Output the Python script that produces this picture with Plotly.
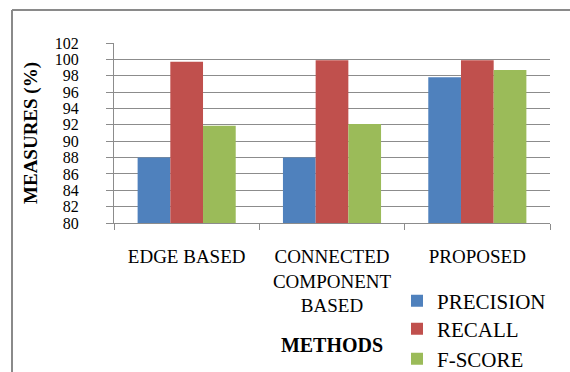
import plotly.graph_objects as go

categories = ["EDGE BASED", "CONNECTED<br>COMPONENT<br>BASED", "PROPOSED"]
precision = [88.0, 88.0, 97.8]
recall = [99.7, 99.9, 99.9]
fscore = [91.9, 92.1, 98.7]
series_names = ["PRECISION", "RECALL", "F-SCORE"]
colors = ["#4F81BD", "#C0504D", "#9BBB59"]
y_ticks = list(range(80, 103, 2))

W, H = 570, 372
L, R, T, B = 114, 20, 43, 149
pw, ph = W - L - R, H - T - B

def px(x):
    return (x - L) / pw

def py(y):
    return (H - B - y) / ph

FONT = "Liberation Serif"
fig = go.Figure()
legends = ["legend", "legend2", "legend3"]
for name, vals, col, lg in zip(series_names, [precision, recall, fscore], colors, legends):
    fig.add_trace(go.Bar(x=categories, y=vals, name=name, marker_color=col,
                         marker_line_width=0, legend=lg, showlegend=True))

grid = "#8c8c8c"
leg_y = [301, 329, 359]
leg_x = 397
leg_common = dict(font=dict(family=FONT, size=21, color="black"), bgcolor="rgba(0,0,0,0)",
                  xanchor="left", yanchor="middle", itemclick=False)
fig.update_layout(
    width=W, height=H,
    showlegend=True,
    margin=dict(l=L, r=R, t=T, b=B, autoexpand=False),
    paper_bgcolor="white", plot_bgcolor="white",
    barmode="group", bargap=0.325, bargroupgap=0,
    legend=dict(x=px(leg_x), y=py(leg_y[0]), visible=True, **leg_common),
    legend2=dict(x=px(leg_x), y=py(leg_y[1]), visible=True, **leg_common),
    legend3=dict(x=px(leg_x), y=py(leg_y[2]), visible=True, **leg_common),
    xaxis=dict(type="category", tickson="boundaries", ticks="outside", ticklen=6,
               tickcolor=grid, showline=True, linecolor=grid, linewidth=1,
               tickfont=dict(family=FONT, size=19, color="black"),
               ticklabelstandoff=16, automargin=False,
               title=dict(text="<b>METHODS</b>", font=dict(family=FONT, size=20, color="black"),
                          standoff=22)),
    yaxis=dict(range=[80, 102], tickvals=y_ticks, ticks="outside", ticklen=7,
               tickcolor=grid, showline=True, linecolor=grid, linewidth=1,
               showgrid=True, gridcolor=grid, gridwidth=1, zeroline=False,
               tickfont=dict(family=FONT, size=16, color="black"),
               ticklabelstandoff=24, automargin=False,
               title=dict(text="<b>MEASURES (%)</b>", font=dict(family=FONT, size=19, color="black"),
                          standoff=12)),
    shapes=[
        dict(type="line", xref="paper", yref="paper", x0=px(12), x1=px(12),
             y0=py(10), y1=py(H + 5), line=dict(color="#8a8a8a", width=2)),
        dict(type="line", xref="paper", yref="paper", x0=px(12), x1=px(W + 5),
             y0=py(10), y1=py(10), line=dict(color="#8a8a8a", width=2)),
    ],
)
fig.update_yaxes(tickprefix="<b>", ticksuffix="</b>")
fig.write_html("out.html")
